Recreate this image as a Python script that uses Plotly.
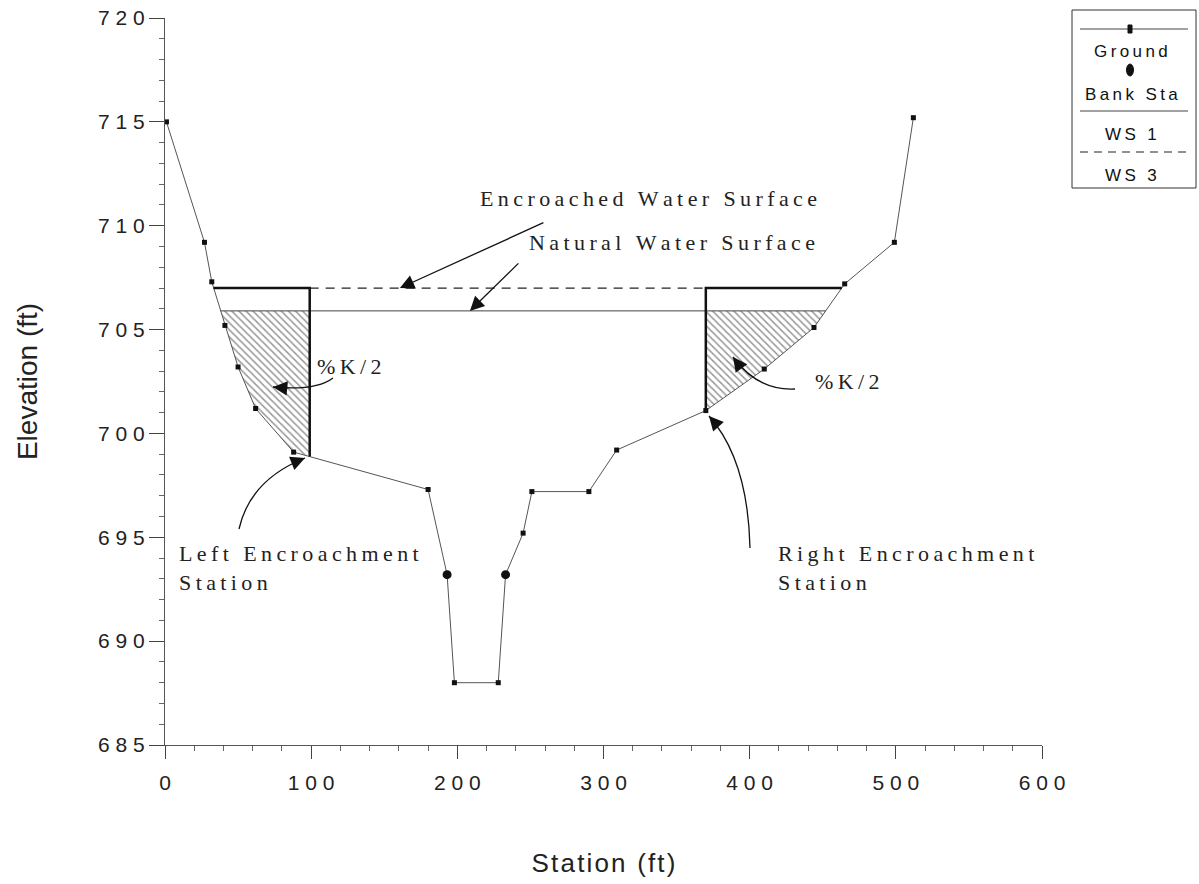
import numpy as np
import plotly.graph_objects as go

# ---------------- data ----------------
station = [1, 27, 32, 41, 50, 62, 88, 180, 193, 198, 228, 233, 245, 251, 290, 309,
           370, 410, 444, 465, 499, 512]
elevation = [715.0, 709.2, 707.3, 705.2, 703.2, 701.2, 699.1, 697.3, 693.2, 688.0, 688.0,
             693.2, 695.2, 697.2, 697.2, 699.2, 701.1, 703.1, 705.1, 707.2, 709.2, 715.2]
bank_station = [193, 233]
bank_elevation = [693.2, 693.2]
ws1_elev = 705.9   # natural water surface (WS 1)
ws3_elev = 707.0   # encroached water surface (WS 3)
enc_left = 99      # left encroachment station
enc_right = 370    # right encroachment station
x_ticks = [0, 100, 200, 300, 400, 500, 600]
y_ticks = [685, 690, 695, 700, 705, 710, 715, 720]

TS = "\u2009"  # thin space used for the wide letter tracking of the original
HS = "\u200a"  # hair space


def spaced(s, sep=TS):
    return sep.join(list(s))


xg = np.array(station, float)
yg = np.array(elevation, float)


def crossing(level, side):
    idx = range(len(xg) - 1) if side == "left" else reversed(range(len(xg) - 1))
    for i in idx:
        y0, y1 = yg[i], yg[i + 1]
        if (y0 - level) * (y1 - level) <= 0 and y0 != y1:
            return xg[i] + (level - y0) * (xg[i + 1] - xg[i]) / (y1 - y0)
    return None


ws1_l, ws1_r = crossing(ws1_elev, "left"), crossing(ws1_elev, "right")
ws3_l, ws3_r = crossing(ws3_elev, "left"), crossing(ws3_elev, "right")
g_el = float(np.interp(enc_left, xg, yg))
g_er = float(np.interp(enc_right, xg, yg))

# hatched conveyance-reduction areas
mask_l = (xg > ws1_l) & (xg < enc_left)
hl_x = [ws1_l] + list(xg[mask_l]) + [enc_left, enc_left, ws1_l]
hl_y = [ws1_elev] + list(yg[mask_l]) + [g_el, ws1_elev, ws1_elev]
mask_r = (xg > enc_right) & (xg < ws1_r)
hr_x = [enc_right, enc_right] + list(xg[mask_r]) + [ws1_r, enc_right]
hr_y = [ws1_elev, g_er] + list(yg[mask_r]) + [ws1_elev, ws1_elev]

fig = go.Figure()
hatch = dict(shape="\\", fgcolor="#333333", bgcolor="white", size=5, solidity=0.3)
for hx, hy in [(hl_x, hl_y), (hr_x, hr_y)]:
    fig.add_trace(go.Scatter(x=hx, y=hy, mode="lines", fill="toself", fillpattern=hatch,
                             line=dict(width=0, color="rgba(0,0,0,0)"), hoverinfo="skip",
                             showlegend=False))

fig.add_trace(go.Scatter(x=station, y=elevation, mode="lines+markers", name="Ground",
                         line=dict(color="#555555", width=1),
                         marker=dict(symbol="square", size=5, color="#111111")))
fig.add_trace(go.Scatter(x=[ws1_l, ws1_r], y=[ws1_elev, ws1_elev], mode="lines", name="WS 1",
                         line=dict(color="#444444", width=1)))
fig.add_trace(go.Scatter(x=[ws3_l, ws3_r], y=[ws3_elev, ws3_elev], mode="lines", name="WS 3",
                         line=dict(color="#222222", width=1.2, dash="9px,7px")))
fig.add_trace(go.Scatter(x=[ws3_l, enc_left, enc_left], y=[ws3_elev, ws3_elev, g_el],
                         mode="lines", line=dict(color="#111111", width=2.5), showlegend=False))
fig.add_trace(go.Scatter(x=[enc_right, enc_right, ws3_r], y=[g_er, ws3_elev, ws3_elev],
                         mode="lines", line=dict(color="#111111", width=2.5), showlegend=False))
fig.add_trace(go.Scatter(x=bank_station, y=bank_elevation, mode="markers", name="Bank Sta",
                         marker=dict(symbol="circle", size=9, color="#111111")))

# screen-pixel -> axis-unit helpers for callout placement (plot area 165..1042 x 18..745)
W, H, L, T, B = 877.0, 727.0, 165.0, 18.0, 745.0


def dx(p):
    return (p - L) / W * 600.0


def dy(p):
    return 720.0 - (p - T) / H * 35.0


def px(p):
    return (p - L) / W


def py(p):
    return (B - p) / H


serif = dict(family="Liberation Serif, Times New Roman, serif", size=22, color="#222222")
annots = [
    dict(x=331, y=711.3, text=spaced("Encroached Water Surface")),
    dict(x=347, y=709.2, text=spaced("Natural Water Surface")),
    dict(x=126, y=703.2, text=spaced("%K/2")),
    dict(x=467, y=702.5, text=spaced("%K/2")),
    dict(x=8, y=693.5, text=spaced("Left Encroachment") + "<br>" + spaced("Station"),
         xanchor="left", align="left"),
    dict(x=418, y=693.5, text=spaced("Right Encroachment") + "<br>" + spaced("Station"),
         xanchor="left", align="left"),
]
for a in annots:
    fig.add_annotation(showarrow=False, font=serif, xref="x", yref="y", **a)

arrow = dict(showarrow=True, arrowhead=2, arrowsize=2.2, arrowwidth=1.3, arrowcolor="#111111",
             text="", xref="x", yref="y")
# straight callouts
for a in [dict(x=160.7, y=707.0, ax=145, ay=-66), dict(x=208.6, y=705.9, ax=50, ay=-49)]:
    fig.add_annotation(**arrow, **a)

# curved callouts: (start, control, tip) in screen pixels
curves = [
    ((333, 378), (316, 391), (273, 387)),
    ((795, 389), (758, 391), (733, 357)),
    ((239, 529), (250, 480), (305, 458)),
    ((750, 548), (748, 460), (709, 416)),
]
shapes = []
for (sx, sy), (cx, cy), (tx, ty) in curves:
    shapes.append(dict(type="path", xref="x", yref="y",
                       path=f"M {dx(sx)},{dy(sy)} Q {dx(cx)},{dy(cy)} {dx(tx)},{dy(ty)}",
                       line=dict(color="#111111", width=1.3)))
    vx, vy = cx - tx, cy - ty
    n = (vx ** 2 + vy ** 2) ** 0.5
    fig.add_annotation(**arrow, x=dx(tx), y=dy(ty), ax=vx / n * 14, ay=vy / n * 14)

# ---------------- custom legend box ----------------
shapes += [
    dict(type="rect", xref="paper", yref="paper", x0=px(1072), x1=px(1196), y0=py(188), y1=py(10),
         line=dict(color="#333333", width=1), fillcolor="white"),
    dict(type="line", xref="paper", yref="paper", x0=px(1080), x1=px(1188), y0=py(29), y1=py(29),
         line=dict(color="#444444", width=1)),
    dict(type="rect", xref="paper", yref="paper", x0=px(1128), x1=px(1132), y0=py(33), y1=py(25),
         line=dict(color="#111111", width=1), fillcolor="#111111"),
    dict(type="circle", xref="paper", yref="paper", x0=px(1126.5), x1=px(1133.5), y0=py(76),
         y1=py(64), line=dict(color="#111111", width=1), fillcolor="#111111"),
    dict(type="line", xref="paper", yref="paper", x0=px(1080), x1=px(1188), y0=py(111), y1=py(111),
         line=dict(color="#444444", width=1)),
    dict(type="line", xref="paper", yref="paper", x0=px(1080), x1=px(1188), y0=py(152), y1=py(152),
         line=dict(color="#222222", width=1.2, dash="8px,6px")),
]
sans_leg = dict(family="Liberation Sans, Arial, sans-serif", size=17, color="#111111")
for txt, yy in [("Ground", 52), ("Bank Sta", 94), ("WS 1", 135), ("WS 3", 176)]:
    fig.add_annotation(x=px(1131), y=py(yy), xref="paper", yref="paper", text=spaced(txt),
                       showarrow=False, font=sans_leg, xanchor="center", yanchor="middle")

sans = dict(family="Liberation Sans, Arial, sans-serif", size=21, color="#222222")
fig.update_layout(
    width=1199, height=884,
    margin=dict(l=165, r=157, t=18, b=139, autoexpand=False),
    paper_bgcolor="white", plot_bgcolor="white",
    showlegend=False,
    shapes=shapes,
    font=sans,
    xaxis=dict(range=[0, 600], tickvals=x_ticks, ticktext=[spaced(str(v), " ") for v in x_ticks],
               ticks="outside", ticklen=13, tickcolor="#444", ticklabeloverflow="allow",
               automargin=False,
               showline=True, linecolor="#555555", linewidth=1, showgrid=False, zeroline=False,
               tickfont=sans, ticklabelstandoff=6,
               minor=dict(ticks="outside", dtick=20, ticklen=5, tickcolor="#666"),
               title=dict(text=spaced("Station (ft)", HS),
                          font=dict(family="Liberation Sans, Arial, sans-serif", size=26,
                                    color="#222222"), standoff=60)),
    yaxis=dict(range=[685, 720], tickvals=y_ticks, ticktext=[spaced(str(v), " ") for v in y_ticks],
               ticks="outside", ticklen=15, tickcolor="#444", ticklabeloverflow="allow",
               automargin=False,
               showline=True, linecolor="#555555", linewidth=1, showgrid=False, zeroline=False,
               tickfont=sans,
               minor=dict(ticks="outside", dtick=1, ticklen=5, tickcolor="#666"),
               title=dict(text="Elevation (ft)",
                          font=dict(family="Liberation Sans, Arial, sans-serif", size=28,
                                    color="#222222"), standoff=52)),
)

# remove the browser's default 8px body margin so the figure fills the window exactly
fig.write_html("out.html",
               config={"displayModeBar": False},
               post_script="document.body.style.margin='0';"
                           "document.body.style.overflow='hidden';")
